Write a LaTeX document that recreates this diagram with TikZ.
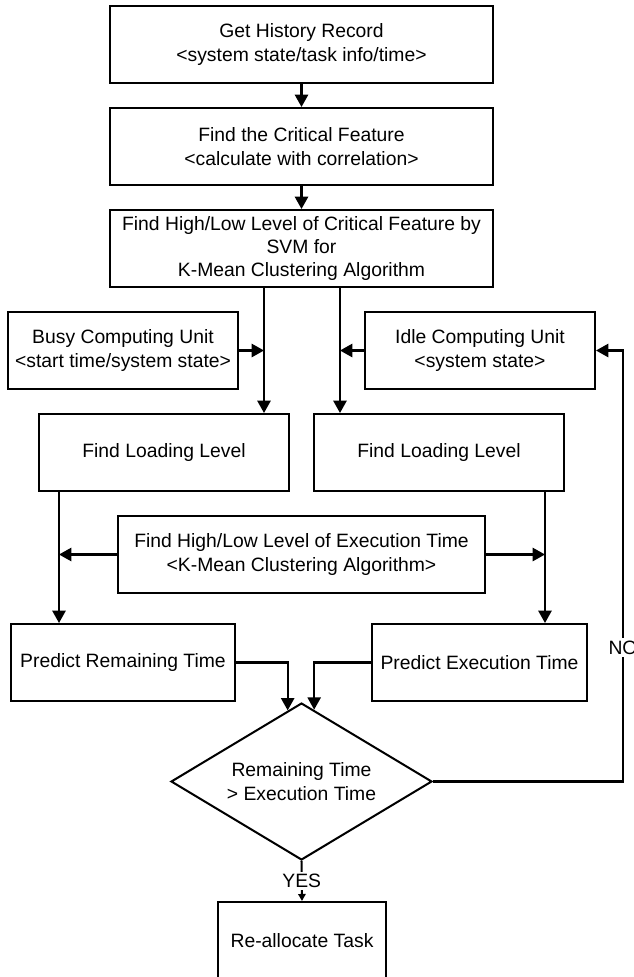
\documentclass[tikz,border=0pt]{standalone}
\usepackage{fontspec}
\setmainfont{Liberation Sans}
\usetikzlibrary{arrows.meta,shapes.geometric}

\begin{document}
\begin{tikzpicture}[
    x=0.02cm, y=-0.02cm,
    box/.style={draw, line width=1.15pt, minimum width=7.66cm, minimum height=1.54cm, align=center, inner sep=1pt, font=\fontsize{11}{13.3}\selectfont},
    decision/.style={draw, diamond, line width=1.15pt, aspect=1.66, minimum width=5.22cm, minimum height=3.14cm, align=center, inner sep=1pt, font=\fontsize{11}{13.3}\selectfont},
    arr/.style={-{Triangle[length=7pt,width=7.5pt]}, line width=1.15pt},
    arrsmall/.style={-{Triangle[length=4pt,width=4.2pt]}, line width=1.15pt},
    tag/.style={fill=white, inner sep=1.5pt, font=\fontsize{11}{13.3}\selectfont}
]
\useasboundingbox (0,0) rectangle (633,977);

\node[box] (hist) at (301.5,44.5) {Get History Record\\<system state/task info/time>};
\node[box] (crit) at (301.5,146.5) {Find the Critical Feature\\<calculate with correlation>};
\node[box] (svm) at (301.5,248.5) {Find High/Low Level of Critical Feature by\\SVM for\\K-Mean Clustering Algorithm};
\node[box, minimum width=4.6cm] (busy) at (123,350.5) {Busy Computing Unit\\<start time/system state>};
\node[box, minimum width=4.6cm] (idle) at (480,350.5) {Idle Computing Unit\\<system state>};
\node[box, minimum width=5cm] (loadL) at (164,452.5) {Find Loading Level};
\node[box, minimum width=5cm] (loadR) at (439,452.5) {Find Loading Level};
\node[box, minimum width=7.34cm] (exec) at (301.5,554.5) {Find High/Low Level of Execution Time\\<K-Mean Clustering Algorithm>};
\node[box, minimum width=4.48cm] (predR) at (123,662.5) {Predict Remaining Time};
\node[box, minimum width=4.3cm] (predE) at (479.5,662.5) {Predict Execution Time};
\node[decision] (dec) at (301.5,781.5) {Remaining Time\\> Execution Time};
\node[box, minimum width=3.36cm] (realloc) at (302,940.5) {Re-allocate Task};

\coordinate (splitL) at ([xshift=-0.75cm]svm.south);
\coordinate (splitR) at ([xshift=0.77cm]svm.south);
\coordinate (downL) at ([xshift=0.42cm]loadL.south west);
\coordinate (downR) at ([xshift=-0.4cm]loadR.south east);
\coordinate (noturn) at (623,781.5);

\draw[arr] (hist) -- (crit);
\draw[arr] (crit) -- (svm);
\draw[arr] (splitL) -- (splitL |- loadL.north);
\draw[arr] (splitR) -- (splitR |- loadR.north);
\draw[arr] (busy.east) -- (busy.east -| splitL);
\draw[arr] (idle.west) -- (idle.west -| splitR);
\draw[arr] (downL) -- (downL |- predR.north);
\draw[arr] (downR) -- (downR |- predE.north);
\draw[arr] (exec.west) -- (exec.west -| downL);
\draw[arr] (exec.east) -- (exec.east -| downR);
\draw[arr] (predR.east) -| (dec.101);
\draw[arr] (predE.west) -| (dec.80);
\draw[arr] (dec.east) -- (noturn) |- node[tag, pos=0.155] {NO} (idle.east);
\draw[arrsmall] (dec.south) -- node[tag] {YES} (realloc.north);
\end{tikzpicture}
\end{document}
